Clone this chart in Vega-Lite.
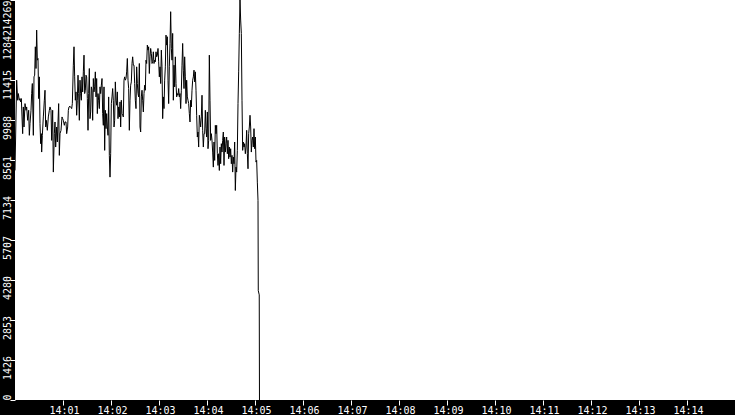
{
"$schema":"https://vega.github.io/schema/vega-lite/v6.json",
"width":720,"height":400,
"autosize":{"type":"none"},
"padding":{"left":15,"top":0,"right":0,"bottom":15},
"background":"black",
"config":{"view":{"fill":"white","stroke":null}},
"data":{"values":[
{"sec":0,"value":8189},{"sec":2.08,"value":11408},{"sec":3.33,"value":10693},{"sec":4.17,"value":10931},{"sec":5.42,"value":10693},{"sec":6.25,"value":10752},{"sec":7.08,"value":10633},{"sec":7.92,"value":10752},{"sec":8.75,"value":10097},{"sec":9.58,"value":9501},
{"sec":10.42,"value":10454},{"sec":11.25,"value":9739},{"sec":12.5,"value":10573},{"sec":13.75,"value":10335},{"sec":14.58,"value":10454},{"sec":15.83,"value":9977},{"sec":17.08,"value":10335},{"sec":17.92,"value":9441},{"sec":18.75,"value":9858},{"sec":20,"value":10335},
{"sec":20.83,"value":10931},{"sec":21.67,"value":11289},{"sec":22.92,"value":9441},{"sec":23.75,"value":11527},{"sec":24.58,"value":11587},{"sec":25.42,"value":12600},{"sec":26.25,"value":11825},{"sec":27.08,"value":13196},{"sec":27.92,"value":12123},{"sec":28.75,"value":12183},
{"sec":29.58,"value":10752},{"sec":30.42,"value":11527},{"sec":31.25,"value":9858},{"sec":32.08,"value":9143},{"sec":32.92,"value":9501},{"sec":33.33,"value":8845},{"sec":34.17,"value":9441},{"sec":35.42,"value":10097},{"sec":36.67,"value":10693},{"sec":37.5,"value":11050},
{"sec":38.33,"value":9739},{"sec":39.17,"value":9977},{"sec":40.42,"value":9620},{"sec":41.67,"value":10097},{"sec":42.92,"value":10335},{"sec":43.75,"value":10454},{"sec":45,"value":10335},{"sec":45.83,"value":9262},{"sec":47.08,"value":10335},{"sec":47.92,"value":8130},
{"sec":49.17,"value":9501},{"sec":50,"value":9918},{"sec":50.83,"value":9024},{"sec":52.08,"value":9739},{"sec":52.92,"value":9203},{"sec":53.75,"value":9918},{"sec":54.58,"value":10573},{"sec":55.42,"value":8726},{"sec":56.25,"value":9501},{"sec":57.5,"value":9620},
{"sec":58.75,"value":10097},{"sec":59.58,"value":10037},{"sec":60.42,"value":9977},{"sec":61.67,"value":9799},{"sec":62.5,"value":9918},{"sec":63.75,"value":9918},{"sec":64.58,"value":9501},{"sec":65.83,"value":9739},{"sec":66.67,"value":10335},{"sec":67.5,"value":10454},
{"sec":68.75,"value":10478},{"sec":69.58,"value":10454},{"sec":70.83,"value":10395},{"sec":71.67,"value":10573},{"sec":72.92,"value":11944},{"sec":73.75,"value":12600},{"sec":74.58,"value":11527},{"sec":75.42,"value":10693},{"sec":76.25,"value":10991},{"sec":77.08,"value":10157},
{"sec":77.92,"value":10693},{"sec":78.75,"value":11587},{"sec":79.58,"value":10931},{"sec":80.42,"value":9977},{"sec":81.25,"value":11408},{"sec":82.08,"value":10931},{"sec":82.92,"value":10693},{"sec":83.75,"value":11527},{"sec":84.58,"value":10991},{"sec":85.42,"value":11706},
{"sec":86.25,"value":12302},{"sec":87.08,"value":10931},{"sec":87.92,"value":11050},{"sec":88.75,"value":11587},{"sec":89.58,"value":11527},{"sec":90.42,"value":10752},{"sec":91.25,"value":9620},{"sec":92.08,"value":10931},{"sec":92.92,"value":11825},{"sec":93.75,"value":10037},
{"sec":94.58,"value":10275},{"sec":95.42,"value":11170},{"sec":96.25,"value":11050},{"sec":97.08,"value":9977},{"sec":97.92,"value":11468},{"sec":98.75,"value":10991},{"sec":99.58,"value":11170},{"sec":100.42,"value":11706},{"sec":101.25,"value":10812},{"sec":102.08,"value":11468},
{"sec":102.92,"value":10216},{"sec":103.75,"value":10931},{"sec":104.58,"value":10693},{"sec":105.42,"value":10395},{"sec":106.25,"value":11170},{"sec":107.08,"value":10931},{"sec":107.92,"value":11229},{"sec":108.75,"value":11468},{"sec":109.58,"value":10216},{"sec":110.42,"value":9799},
{"sec":111.25,"value":11170},{"sec":112.08,"value":8905},{"sec":112.92,"value":10335},{"sec":113.75,"value":9680},{"sec":114.58,"value":10216},{"sec":115.42,"value":9739},{"sec":116.25,"value":9441},{"sec":117.08,"value":10812},{"sec":117.92,"value":8726},{"sec":118.75,"value":7951},
{"sec":119.58,"value":8785},{"sec":120.42,"value":10573},{"sec":121.25,"value":10812},{"sec":122.08,"value":11110},{"sec":122.92,"value":10693},{"sec":123.75,"value":9739},{"sec":124.58,"value":9977},{"sec":125.42,"value":11348},{"sec":126.25,"value":10693},{"sec":127.08,"value":10514},
{"sec":127.92,"value":10991},{"sec":128.75,"value":10037},{"sec":129.58,"value":10454},{"sec":130.42,"value":10097},{"sec":131.25,"value":10633},{"sec":132.08,"value":9739},{"sec":132.92,"value":10693},{"sec":133.75,"value":10216},{"sec":134.58,"value":10157},{"sec":135.42,"value":10097},
{"sec":136.25,"value":11408},{"sec":137.08,"value":11527},{"sec":137.92,"value":11408},{"sec":138.75,"value":11468},{"sec":139.58,"value":11706},{"sec":140.42,"value":12183},{"sec":141.25,"value":11408},{"sec":142.08,"value":11110},{"sec":142.92,"value":9620},{"sec":143.75,"value":10693},
{"sec":144.58,"value":11229},{"sec":145.42,"value":11348},{"sec":146.25,"value":12004},{"sec":147.08,"value":12242},{"sec":147.92,"value":11944},{"sec":148.75,"value":11944},{"sec":149.58,"value":11289},{"sec":150.42,"value":10693},{"sec":151.25,"value":10395},{"sec":152.08,"value":11885},
{"sec":152.92,"value":11289},{"sec":153.75,"value":10931},{"sec":154.58,"value":10812},{"sec":155.42,"value":12004},{"sec":156.25,"value":9739},{"sec":157.08,"value":9560},{"sec":157.92,"value":10812},{"sec":158.75,"value":11050},{"sec":159.58,"value":10693},{"sec":160.42,"value":10275},
{"sec":161.25,"value":10931},{"sec":162.08,"value":11229},{"sec":162.92,"value":11050},{"sec":163.75,"value":12123},{"sec":164.58,"value":12004},{"sec":165.42,"value":12660},{"sec":166.25,"value":12481},{"sec":167.08,"value":12600},{"sec":167.92,"value":11646},{"sec":168.75,"value":12242},
{"sec":169.58,"value":12541},{"sec":170.42,"value":12362},{"sec":171.25,"value":12004},{"sec":172.08,"value":12064},{"sec":172.92,"value":12421},{"sec":173.75,"value":12004},{"sec":174.58,"value":12123},{"sec":175.42,"value":12064},{"sec":176.25,"value":12421},{"sec":177.08,"value":12242},
{"sec":177.92,"value":12302},{"sec":178.75,"value":12541},{"sec":179.58,"value":12064},{"sec":180.42,"value":11527},{"sec":181.25,"value":11885},{"sec":182.08,"value":11289},{"sec":182.92,"value":12481},{"sec":183.75,"value":11885},{"sec":184.58,"value":10037},{"sec":185.42,"value":10812},
{"sec":186.25,"value":10395},{"sec":187.08,"value":11408},{"sec":187.92,"value":11885},{"sec":188.75,"value":13017},{"sec":189.58,"value":12660},{"sec":190.42,"value":12958},{"sec":191.25,"value":11408},{"sec":192.08,"value":10573},{"sec":192.92,"value":11885},{"sec":193.75,"value":12719},
{"sec":194.58,"value":13852},{"sec":195.42,"value":12541},{"sec":196.25,"value":12123},{"sec":197.08,"value":13077},{"sec":197.92,"value":10693},{"sec":198.75,"value":11944},{"sec":199.58,"value":11170},{"sec":200.42,"value":12242},{"sec":201.25,"value":11289},{"sec":202.08,"value":10812},
{"sec":202.92,"value":10931},{"sec":203.75,"value":10872},{"sec":204.58,"value":11110},{"sec":205.42,"value":10812},{"sec":206.25,"value":10931},{"sec":207.08,"value":10395},{"sec":207.92,"value":11050},{"sec":208.75,"value":11944},{"sec":209.58,"value":12719},{"sec":210.42,"value":11766},
{"sec":211.25,"value":11110},{"sec":212.08,"value":12242},{"sec":212.92,"value":11527},{"sec":213.75,"value":10573},{"sec":214.58,"value":11408},{"sec":215.42,"value":10812},{"sec":216.25,"value":10693},{"sec":217.08,"value":10573},{"sec":217.92,"value":10216},{"sec":218.75,"value":9918},
{"sec":219.58,"value":10693},{"sec":220.42,"value":10454},{"sec":221.25,"value":11050},{"sec":222.08,"value":11408},{"sec":222.92,"value":11527},{"sec":223.75,"value":11766},{"sec":224.58,"value":11348},{"sec":225.42,"value":11706},{"sec":226.25,"value":11050},{"sec":227.08,"value":10157},
{"sec":227.92,"value":9381},{"sec":228.75,"value":9560},{"sec":229.58,"value":9024},{"sec":230.42,"value":10157},{"sec":231.25,"value":9977},{"sec":232.08,"value":9739},{"sec":232.92,"value":10097},{"sec":233.75,"value":10872},{"sec":234.58,"value":9620},{"sec":235.42,"value":9024},
{"sec":236.25,"value":9501},{"sec":237.08,"value":9501},{"sec":237.92,"value":10335},{"sec":238.75,"value":9680},{"sec":239.58,"value":9381},{"sec":240.42,"value":10275},{"sec":241.25,"value":8964},{"sec":242.08,"value":9262},{"sec":242.92,"value":12302},{"sec":243.75,"value":10693},
{"sec":244.58,"value":9262},{"sec":245.42,"value":9501},{"sec":246.25,"value":9262},{"sec":247.08,"value":8845},{"sec":247.92,"value":8308},{"sec":248.75,"value":9203},{"sec":249.58,"value":8547},{"sec":250.42,"value":9799},{"sec":251.25,"value":9501},{"sec":252.08,"value":9799},
{"sec":252.92,"value":8785},{"sec":253.75,"value":8368},{"sec":254.58,"value":8785},{"sec":255.42,"value":8189},{"sec":256.25,"value":9024},{"sec":257.08,"value":8428},{"sec":257.92,"value":9143},{"sec":258.75,"value":8845},{"sec":259.58,"value":9262},{"sec":260.42,"value":9560},
{"sec":261.25,"value":8368},{"sec":262.08,"value":9381},{"sec":262.92,"value":8845},{"sec":263.75,"value":9143},{"sec":264.58,"value":9381},{"sec":265.42,"value":8785},{"sec":266.25,"value":9262},{"sec":267.08,"value":8607},{"sec":267.92,"value":9024},{"sec":268.75,"value":8666},
{"sec":269.58,"value":8964},{"sec":270.42,"value":8428},{"sec":271.25,"value":8726},{"sec":272.08,"value":8130},{"sec":272.92,"value":8666},{"sec":273.75,"value":8428},{"sec":274.58,"value":9203},{"sec":275.42,"value":7474},{"sec":276.25,"value":8308},{"sec":277.08,"value":8130},
{"sec":277.92,"value":8905},{"sec":278.75,"value":10573},{"sec":279.58,"value":11706},{"sec":280.42,"value":13077},{"sec":281.25,"value":14269},{"sec":282.08,"value":13554},{"sec":282.92,"value":13077},{"sec":283.75,"value":10693},{"sec":284.58,"value":8905},{"sec":285.42,"value":9203},
{"sec":286.25,"value":9024},{"sec":287.08,"value":9143},{"sec":287.92,"value":8785},{"sec":288.75,"value":9024},{"sec":289.58,"value":9620},{"sec":290.42,"value":8785},{"sec":291.25,"value":8249},{"sec":292.08,"value":9501},{"sec":292.92,"value":9739},{"sec":293.75,"value":10157},
{"sec":294.58,"value":9739},{"sec":295.42,"value":8845},{"sec":296.25,"value":9262},{"sec":297.08,"value":9381},{"sec":297.92,"value":9024},{"sec":298.75,"value":9680},{"sec":299.58,"value":8964},{"sec":300.42,"value":9381},{"sec":301.25,"value":8487},{"sec":302.08,"value":8547},
{"sec":302.92,"value":7772},{"sec":303.75,"value":7116},{"sec":304.1,"value":3900},{"sec":305.3,"value":3750},{"sec":305.6,"value":0}
]},
"mark":{"type":"line","color":"black","strokeWidth":1,"clip":true},
"encoding":{
"x":{"field":"sec","type":"quantitative","scale":{"domain":[0,900],"nice":false,"zero":false},
"axis":{"title":null,"values":[60,120,180,240,300,360,420,480,540,600,660,720,780,840],
"labelExpr":"'14:' + (datum.value < 600 ? '0' : '') + (datum.value/60)",
"grid":false,"domain":false,"tickColor":"white","tickSize":5,"labelColor":"white","labelFont":"DejaVu Sans Mono","labelFontSize":10,
"labelBaseline":"alphabetic","labelPadding":8,"labelAlign":"center","labelOffset":1,"labelOverlap":false,"labelFlush":false,"labelBound":false}},
"y":{"field":"value","type":"quantitative","scale":{"domain":[0,14269],"nice":false,"zero":true},
"axis":{"title":null,"values":[0,1426,2853,4280,5707,7134,8561,9988,11415,12842,14269],"format":"d",
"grid":false,"domain":false,"tickColor":"white","tickSize":5,"labelColor":"white","labelFont":"DejaVu Sans Mono","labelFontSize":10,
"labelAngle":270,
"labelAlign":{"condition":{"test":"datum.value == 14269","value":"right"},"value":"left"},
"labelBaseline":"alphabetic","labelPadding":0,
"labelOffset":{"condition":{"test":"datum.value == 0 || datum.value == 14269","value":0},"value":19.5},
"labelOverlap":false,"labelFlush":false,"labelBound":false}}
}
}
